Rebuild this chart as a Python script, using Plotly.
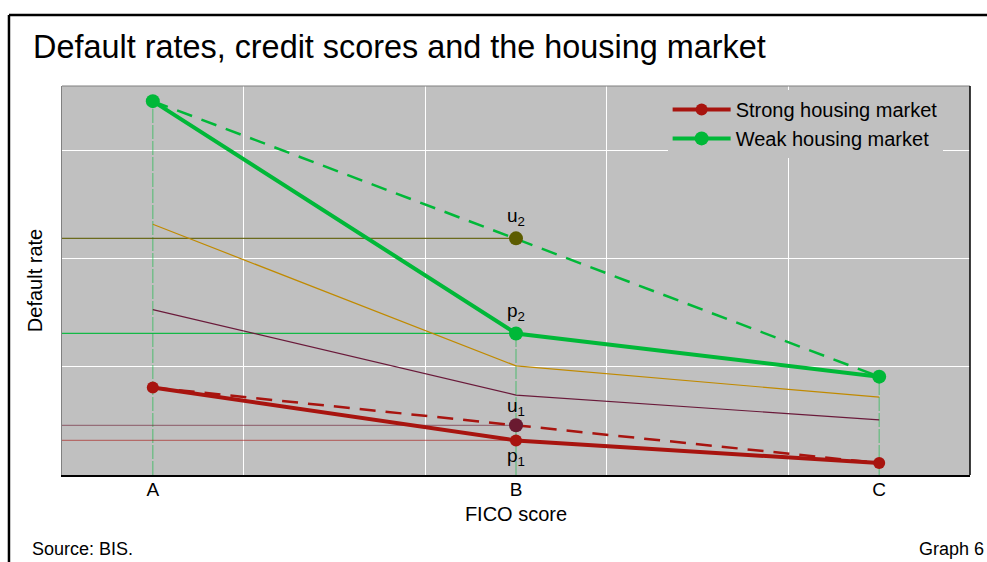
import plotly.graph_objects as go

# ---- data ----
categories = ["A", "B", "C"]
x_pos = [1, 2, 3]
strong = [0.81, 0.32, 0.11]          # strong housing market (p1 at B)
weak = [3.46, 1.31, 0.91]            # weak housing market (p2 at B)
strong_dashed = [0.81, 0.46, 0.11]   # straight A-C line, u1 at B
weak_dashed = [3.46, 2.19, 0.91]     # straight A-C line, u2 at B
orange_thin = [2.32, 1.01, 0.72]
maroon_thin = [1.53, 0.74, 0.51]
point_labels = ["u<sub>2</sub>", "p<sub>2</sub>", "u<sub>1</sub>", "p<sub>1</sub>"]
point_values = [weak_dashed[1], weak[1], strong_dashed[1], strong[1]]
point_colors = ["#5c5c00", "#00b838", "#6a1a30", "#a8140f"]

XRANGE = [0.75, 3.25]
YRANGE = [0, 3.6]

GREEN = "#00b838"
RED = "#a8140f"
FONT = "Arial, Liberation Sans, sans-serif"

fig = go.Figure()

# vertical guide lines from weak points to axis
for xv, yv in zip(x_pos, weak):
    fig.add_trace(go.Scatter(x=[xv, xv], y=[YRANGE[0], yv], mode="lines",
                             line=dict(color="rgba(0,184,56,0.45)", width=1.3, dash="14px,2px"),
                             showlegend=False, hoverinfo="skip"))

# horizontal guide lines from left edge to the B points
for yv, c in zip(point_values, ["rgba(92,92,0,0.85)", "rgba(0,184,56,0.9)",
                               "rgba(106,26,48,0.5)", "rgba(168,20,15,0.5)"]):
    fig.add_trace(go.Scatter(x=[XRANGE[0], x_pos[1]], y=[yv, yv], mode="lines",
                             line=dict(color=c, width=1.3),
                             showlegend=False, hoverinfo="skip"))

# thin lines
fig.add_trace(go.Scatter(x=x_pos, y=orange_thin, mode="lines",
                         line=dict(color="#c08a00", width=1.2),
                         showlegend=False, hoverinfo="skip"))
fig.add_trace(go.Scatter(x=x_pos, y=maroon_thin, mode="lines",
                         line=dict(color="#6a1a3a", width=1.2),
                         showlegend=False, hoverinfo="skip"))

# dashed lines
fig.add_trace(go.Scatter(x=[x_pos[0], x_pos[2]], y=[weak_dashed[0], weak_dashed[2]], mode="lines",
                         line=dict(color=GREEN, width=2.5, dash="16px,10px"),
                         showlegend=False, hoverinfo="skip"))
fig.add_trace(go.Scatter(x=[x_pos[0], x_pos[2]], y=[strong_dashed[0], strong_dashed[2]], mode="lines",
                         line=dict(color=RED, width=2.5, dash="16px,10px"),
                         showlegend=False, hoverinfo="skip"))

# main series
fig.add_trace(go.Scatter(x=x_pos, y=strong, mode="lines+markers", name="Strong housing market",
                         line=dict(color=RED, width=4), marker=dict(color=RED, size=12)))
fig.add_trace(go.Scatter(x=x_pos, y=weak, mode="lines+markers", name="Weak housing market",
                         line=dict(color=GREEN, width=4), marker=dict(color=GREEN, size=14)))

# u points
fig.add_trace(go.Scatter(x=[x_pos[1]], y=[weak_dashed[1]], mode="markers",
                         marker=dict(color=point_colors[0], size=14), showlegend=False))
fig.add_trace(go.Scatter(x=[x_pos[1]], y=[strong_dashed[1]], mode="markers",
                         marker=dict(color=point_colors[2], size=14), showlegend=False))

# point labels
shifts = [21, 21, 18, -17]
for lab, yv, s in zip(point_labels, point_values, shifts):
    fig.add_annotation(x=x_pos[1], y=yv, text=lab, showarrow=False, yshift=s,
                       font=dict(family=FONT, size=19, color="#000000"))

# outer frame
fig.add_shape(type="line", xref="paper", yref="paper", x0=-0.0584, x1=1.2, y0=1.1825, y1=1.1825,
              line=dict(color="black", width=2.5))
fig.add_shape(type="line", xref="paper", yref="paper", x0=-0.0584, x1=-0.0584, y0=1.1825, y1=-0.4,
              line=dict(color="black", width=2.5))
# plot borders
fig.add_shape(type="line", xref="paper", yref="paper", x0=0, x1=1, y0=1, y1=1,
              line=dict(color="#808080", width=1.2))
fig.add_shape(type="line", xref="paper", yref="paper", x0=1, x1=1, y0=0, y1=1,
              line=dict(color="black", width=1.5))

fig.update_layout(
    width=987, height=562,
    margin=dict(l=62, r=17, t=86, b=87),
    paper_bgcolor="white", plot_bgcolor="#c0c0c0",
    font=dict(family=FONT, size=20, color="#000000"),
    title=dict(text="Default rates, credit scores and the housing market",
               x=33 / 987, xanchor="left", xref="container",
               y=1 - 47 / 562, yanchor="middle", yref="container",
               font=dict(family=FONT, size=32.4, color="#000000")),
    xaxis=dict(range=XRANGE, tickvals=x_pos, ticktext=categories, showgrid=False,
               zeroline=False, showline=True, linecolor="black", linewidth=1.5,
               ticks="", tickfont=dict(size=19), ticklabelstandoff=-4,
               minor=dict(tickvals=[1.25, 1.75, 2.25, 2.75], showgrid=True,
                          gridcolor="white", gridwidth=1.2, ticks=""),
               title=dict(text="FICO score", font=dict(size=20), standoff=8)),
    yaxis=dict(range=YRANGE, tickvals=[1, 2, 3], showticklabels=False, showgrid=True,
               gridcolor="white", gridwidth=1.2, zeroline=False, showline=True,
               linecolor="#808080", linewidth=1.2, ticks="",
               title=dict(text="Default rate", font=dict(size=20), standoff=12)),
    legend=dict(x=0.667, y=0.99, xanchor="left", yanchor="top", bgcolor="#c0c0c0",
                font=dict(family=FONT, size=20), itemwidth=58, tracegroupgap=0,
                traceorder="normal"),
    annotations=list(fig.layout.annotations) + [
        dict(text="Source: BIS.", xref="paper", yref="paper", x=(30 - 62) / 908, y=-0.19,
             xanchor="left", yanchor="middle", showarrow=False, font=dict(size=18)),
        dict(text="Graph 6", xref="paper", yref="paper", x=(986 - 62) / 908, y=-0.19,
             xanchor="right", yanchor="middle", showarrow=False, font=dict(size=18)),
    ],
)

fig.write_html("out.html", config={"displayModeBar": False},
               post_script="document.body.style.margin='0px';")
